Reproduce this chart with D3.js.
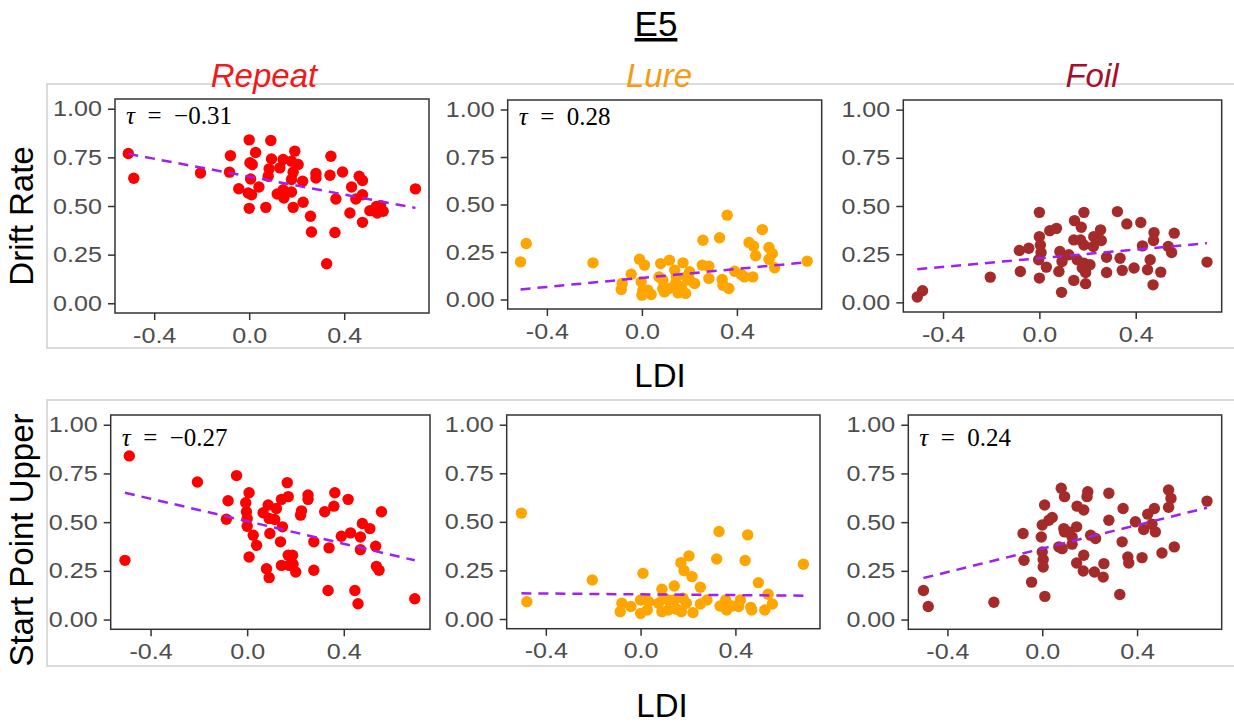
<!DOCTYPE html>
<head>
<meta charset="utf-8">
<title>E5</title>
<style>
body { margin: 0; background: #fff; }
text { font-family: "Liberation Sans", Arial, sans-serif; }
.tick text { fill: #4d4d4d; font-size: 22px; }
.tick line { stroke: #333; stroke-width: 1.5px; }
path.fit { fill: none; stroke: #a020f0; stroke-width: 2.5px; stroke-dasharray: 10,7; }
rect.border { fill: #fff; stroke: #333; stroke-width: 1.5px; }
rect.strip { fill: none; stroke: #d0d0d0; stroke-width: 1.5px; }
text.tau { font-family: "Liberation Serif", "DejaVu Serif", serif; font-size: 25px; fill: #000; }
text.lab { font-size: 33px; fill: #000; }
</style>
</head>
<body>
<script src="https://cdn.jsdelivr.net/npm/d3@7"></script>
<script>
// columns and rows
var conditions = ["Repeat", "Lure", "Foil"];
var condColors = ["#ff0000", "#ffa500", "#a52a2a"];
var titleColors = ["#f01a1a", "#f39c12", "#a50f2d"];
var measures = ["Drift Rate", "Start Point Upper"];

// Drift Rate, points as [LDI, value]
var driftRepeat = [[-0.509,0.770],[-0.486,0.643],[-0.205,0.670],[-0.079,0.759],[-0.083,0.674],[0.0,0.840],[0.091,0.837],
  [0.027,0.775],[0.003,0.722],[0.013,0.713],[-0.044,0.589],[0.006,0.639],[0.041,0.598],[-0.004,0.567],[0.010,0.558],
  [0.0,0.488],[0.070,0.493],[0.094,0.742],[0.084,0.691],[0.080,0.653],[0.129,0.696],[0.143,0.739],[0.192,0.782],
  [0.178,0.730],[0.206,0.713],[0.185,0.674],[0.178,0.636],[0.118,0.562],[0.143,0.584],[0.146,0.541],[0.178,0.572],
  [0.185,0.493],[0.225,0.627],[0.227,0.519],[0.281,0.667],[0.281,0.644],[0.258,0.447],[0.262,0.366],[0.344,0.756],
  [0.340,0.658],[0.365,0.536],[0.361,0.364],[0.326,0.203],[0.393,0.675],[0.431,0.598],[0.424,0.464],[0.463,0.653],
  [0.477,0.631],[0.449,0.536],[0.477,0.558],[0.477,0.416],[0.508,0.476],[0.536,0.498],[0.539,0.464],[0.553,0.502],
  [0.564,0.473],[0.700,0.588]];
var driftLure = [[-0.511,0.198],[-0.487,0.295],[-0.206,0.193],[-0.083,0.084],[-0.087,0.053],[-0.045,0.133],[-0.010,0.212],
  [0.011,0.181],[-0.003,0.093],[0.004,0.049],[0.0,0.023],[0.039,0.026],[0.025,0.049],[0.079,0.189],[0.116,0.207],
  [0.072,0.119],[0.088,0.102],[0.088,0.058],[0.095,0.040],[0.138,0.154],[0.142,0.084],[0.152,0.035],[0.184,0.032],
  [0.173,0.193],[0.187,0.119],[0.201,0.102],[0.222,0.084],[0.201,0.146],[0.257,0.312],[0.254,0.181],[0.282,0.175],
  [0.282,0.111],[0.327,0.325],[0.359,0.444],[0.338,0.105],[0.341,0.075],[0.366,0.058],[0.390,0.149],[0.418,0.132],
  [0.432,0.119],[0.451,0.300],[0.470,0.281],[0.479,0.230],[0.467,0.119],[0.507,0.368],[0.535,0.274],[0.549,0.242],
  [0.535,0.212],[0.559,0.167],[0.696,0.202],[0.114,0.058],[0.166,0.067],[0.145,0.119]];
var driftFoil = [[-0.507,0.028],[-0.485,0.060],[-0.204,0.131],[-0.083,0.269],[-0.044,0.281],[-0.079,0.160],[0.0,0.467],
  [0.0,0.341],[0.004,0.298],[0.007,0.259],[-0.003,0.221],[0.029,0.183],[0.0,0.126],[0.043,0.372],[0.071,0.384],
  [0.085,0.264],[0.099,0.238],[0.094,0.212],[0.081,0.160],[0.092,0.052],[0.146,0.424],[0.185,0.467],[0.174,0.390],
  [0.143,0.324],[0.171,0.324],[0.185,0.298],[0.122,0.247],[0.157,0.221],[0.185,0.203],[0.210,0.195],[0.178,0.178],
  [0.192,0.155],[0.143,0.114],[0.192,0.097],[0.226,0.341],[0.254,0.376],[0.257,0.321],[0.224,0.290],[0.279,0.234],
  [0.279,0.155],[0.324,0.471],[0.363,0.407],[0.335,0.229],[0.344,0.166],[0.393,0.178],[0.421,0.414],[0.428,0.293],
  [0.449,0.169],[0.460,0.221],[0.476,0.362],[0.474,0.321],[0.504,0.157],[0.472,0.091],[0.535,0.290],[0.549,0.259],
  [0.560,0.359],[0.696,0.209]];

// Start Point Upper
var startRepeat = [[-0.506,0.304],[-0.488,0.840],[-0.206,0.706],[-0.079,0.610],[-0.086,0.515],[-0.044,0.739],[0.008,0.651],
  [-0.006,0.600],[-0.003,0.553],[0.0,0.519],[0.0,0.479],[0.025,0.433],[0.039,0.381],[0.008,0.321],[0.066,0.548],
  [0.087,0.588],[0.094,0.442],[0.080,0.261],[0.091,0.215],[0.091,0.519],[0.114,0.514],[0.121,0.570],[0.142,0.617],
  [0.170,0.631],[0.166,0.703],[0.146,0.476],[0.138,0.399],[0.142,0.278],[0.174,0.278],[0.170,0.330],[0.188,0.330],
  [0.190,0.284],[0.201,0.244],[0.221,0.536],[0.225,0.558],[0.252,0.639],[0.252,0.617],[0.276,0.399],[0.276,0.253],
  [0.321,0.553],[0.359,0.582],[0.363,0.651],[0.339,0.368],[0.335,0.149],[0.390,0.428],[0.418,0.617],[0.428,0.445],
  [0.477,0.493],[0.469,0.424],[0.469,0.359],[0.446,0.149],[0.459,0.081],[0.508,0.467],[0.532,0.376],[0.535,0.273],
  [0.546,0.253],[0.556,0.553],[0.694,0.107]];
var startLure = [[-0.503,0.545],[-0.480,0.089],[-0.204,0.201],[-0.079,0.081],[-0.086,0.038],[-0.041,0.064],[0.010,0.235],
  [0.0,0.098],[0.0,0.029],[0.028,0.046],[0.034,0.089],[0.090,0.153],[0.076,0.081],[0.090,0.038],[0.117,0.046],
  [0.142,0.170],[0.142,0.098],[0.152,0.050],[0.172,0.038],[0.170,0.290],[0.204,0.325],[0.183,0.249],[0.217,0.218],
  [0.179,0.107],[0.193,0.081],[0.221,0.033],[0.252,0.163],[0.252,0.077],[0.280,0.098],[0.321,0.309],[0.331,0.450],
  [0.335,0.067],[0.359,0.098],[0.363,0.046],[0.386,0.067],[0.414,0.064],[0.421,0.098],[0.441,0.301],[0.452,0.433],
  [0.465,0.060],[0.469,0.046],[0.497,0.187],[0.538,0.127],[0.524,0.046],[0.556,0.077],[0.687,0.282],[0.097,0.107],
  [0.117,0.098],[0.021,0.101]];
var startFoil = [[-0.501,0.149],[-0.481,0.067],[-0.204,0.089],[-0.081,0.442],[-0.077,0.304],[-0.045,0.192],[0.010,0.588],
  [0.0,0.485],[-0.004,0.424],[0.0,0.347],[0.004,0.308],[0.004,0.270],[0.011,0.119],[0.028,0.510],[0.042,0.524],
  [0.080,0.674],[0.094,0.631],[0.091,0.467],[0.094,0.450],[0.070,0.373],[0.084,0.364],[0.147,0.582],[0.175,0.562],
  [0.189,0.631],[0.192,0.656],[0.145,0.476],[0.126,0.424],[0.126,0.387],[0.204,0.433],[0.225,0.416],[0.175,0.330],
  [0.145,0.290],[0.173,0.249],[0.220,0.244],[0.257,0.218],[0.260,0.287],[0.281,0.648],[0.281,0.510],[0.341,0.570],
  [0.337,0.399],[0.361,0.321],[0.365,0.290],[0.327,0.129],[0.393,0.502],[0.421,0.318],[0.428,0.462],[0.445,0.541],
  [0.463,0.490],[0.473,0.570],[0.477,0.450],[0.505,0.342],[0.533,0.665],[0.543,0.622],[0.533,0.576],[0.557,0.373],
  [0.695,0.608],[0.112,0.450]];

// dashed fit lines: value at the lowest and highest LDI
var driftFit = [[0.768, 0.490], [0.053, 0.196], [0.172, 0.307]];
var startFit = [[0.651, 0.304], [0.132, 0.120], [0.213, 0.574]];

// Kendall tau labels
var driftTau = ["\u22120.31", "0.28", null];
var startTau = ["\u22120.27", null, "0.24"];

var xTicks = [-0.4, 0.0, 0.4];
var yTicks = [0, 0.25, 0.5, 0.75, 1];

var rows = [
  {points: [driftRepeat, driftLure, driftFoil], fit: driftFit, tau: driftTau},
  {points: [startRepeat, startLure, startFoil], fit: startFit, tau: startTau}
];

// panel boxes in pixels [left, right, top, bottom]
var boxes = [
  [[115, 429, 99, 313], [507.7, 821.7, 100, 309], [903.3, 1221.7, 100, 312]],
  [[110.7, 430, 415, 629.3], [506.7, 820, 415, 628.7], [908.3, 1221.7, 415, 629.3]]
];
var tauDy = [25, 31];
var stretch = 1.14; // tick labels are a bit wide in the source

var width = 1234, height = 726;
var svg = d3.select("body").append("svg")
  .attr("width", width)
  .attr("height", height);

// light strip frames round each row
svg.append("rect").attr("class", "strip").attr("x", 47).attr("y", 84).attr("width", 1200).attr("height", 264);
svg.append("rect").attr("class", "strip").attr("x", 47).attr("y", 400).attr("width", 1200).attr("height", 266);

// title
svg.append("text").attr("x", 656).attr("y", 36).attr("text-anchor", "middle")
  .style("font-size", "35px").style("text-decoration", "underline").text("E5");

var titleX = [264, 659, 1092];
conditions.forEach(function(c, i) {
  svg.append("text").attr("x", titleX[i]).attr("y", 87).attr("text-anchor", "middle")
    .style("font-size", "33px").style("font-style", "italic")
    .style("fill", titleColors[i]).text(c);
});

svg.append("text").attr("class", "lab").attr("text-anchor", "middle")
  .attr("transform", "translate(33,216) rotate(-90)").text(measures[0]);
svg.append("text").attr("class", "lab").attr("text-anchor", "middle")
  .attr("transform", "translate(33,540) rotate(-90)").text(measures[1]);
svg.append("text").attr("class", "lab").attr("text-anchor", "middle")
  .attr("x", 660).attr("y", 387).text("LDI");
svg.append("text").attr("class", "lab").attr("text-anchor", "middle")
  .attr("x", 662).attr("y", 717).text("LDI");

rows.forEach(function(row, r) {
  conditions.forEach(function(c, i) {
    var b = boxes[r][i];
    var x = d3.scaleLinear().domain([-0.565, 0.757]).range([b[0], b[1]]);
    var y = d3.scaleLinear().domain([-0.05, 1.05]).range([b[3], b[2]]);
    var g = svg.append("g");

    g.append("rect").attr("class", "border")
      .attr("x", b[0]).attr("y", b[2])
      .attr("width", b[1] - b[0]).attr("height", b[3] - b[2]);

    g.append("g").attr("transform", "translate(" + b[0] + ",0)")
      .call(d3.axisLeft(y).tickValues(yTicks).tickSize(7).tickPadding(4.5)
        .tickFormat(function(d) { return d.toFixed(2); }))
      .call(function(a) {
        a.select(".domain").remove();
        a.selectAll("text").attr("font-family", null).attr("font-size", null)
          .attr("transform", "scale(" + stretch + ",1)");
      });

    g.append("g").attr("transform", "translate(0," + b[3] + ")")
      .call(d3.axisBottom(x).tickValues(xTicks).tickSize(7).tickPadding(7)
        .tickFormat(function(d) { return d.toFixed(1); }))
      .call(function(a) {
        a.select(".domain").remove();
        a.selectAll("text").attr("font-family", null).attr("font-size", null)
          .attr("transform", "scale(" + stretch + ",1)");
      });

    var pts = row.points[i];
    g.selectAll("circle").data(pts).enter().append("circle")
      .attr("cx", function(d) { return x(d[0]); })
      .attr("cy", function(d) { return y(d[1]); })
      .attr("r", 5.7)
      .style("fill", condColors[i]);

    var ext = d3.extent(pts, function(d) { return d[0]; });
    var f = row.fit[i];
    g.append("path").attr("class", "fit")
      .attr("d", d3.line()([[x(ext[0]), y(f[0])], [x(ext[1]), y(f[1])]]));

    if (row.tau[i]) {
      var t = g.append("text").attr("class", "tau")
        .attr("x", b[0] + 11).attr("y", b[2] + tauDy[r]);
      t.append("tspan").style("font-style", "italic").text("\u03c4");
      t.append("tspan").text("\u2002=\u2002" + row.tau[i]);
    }
  });
});
</script>
</body>
</html>
